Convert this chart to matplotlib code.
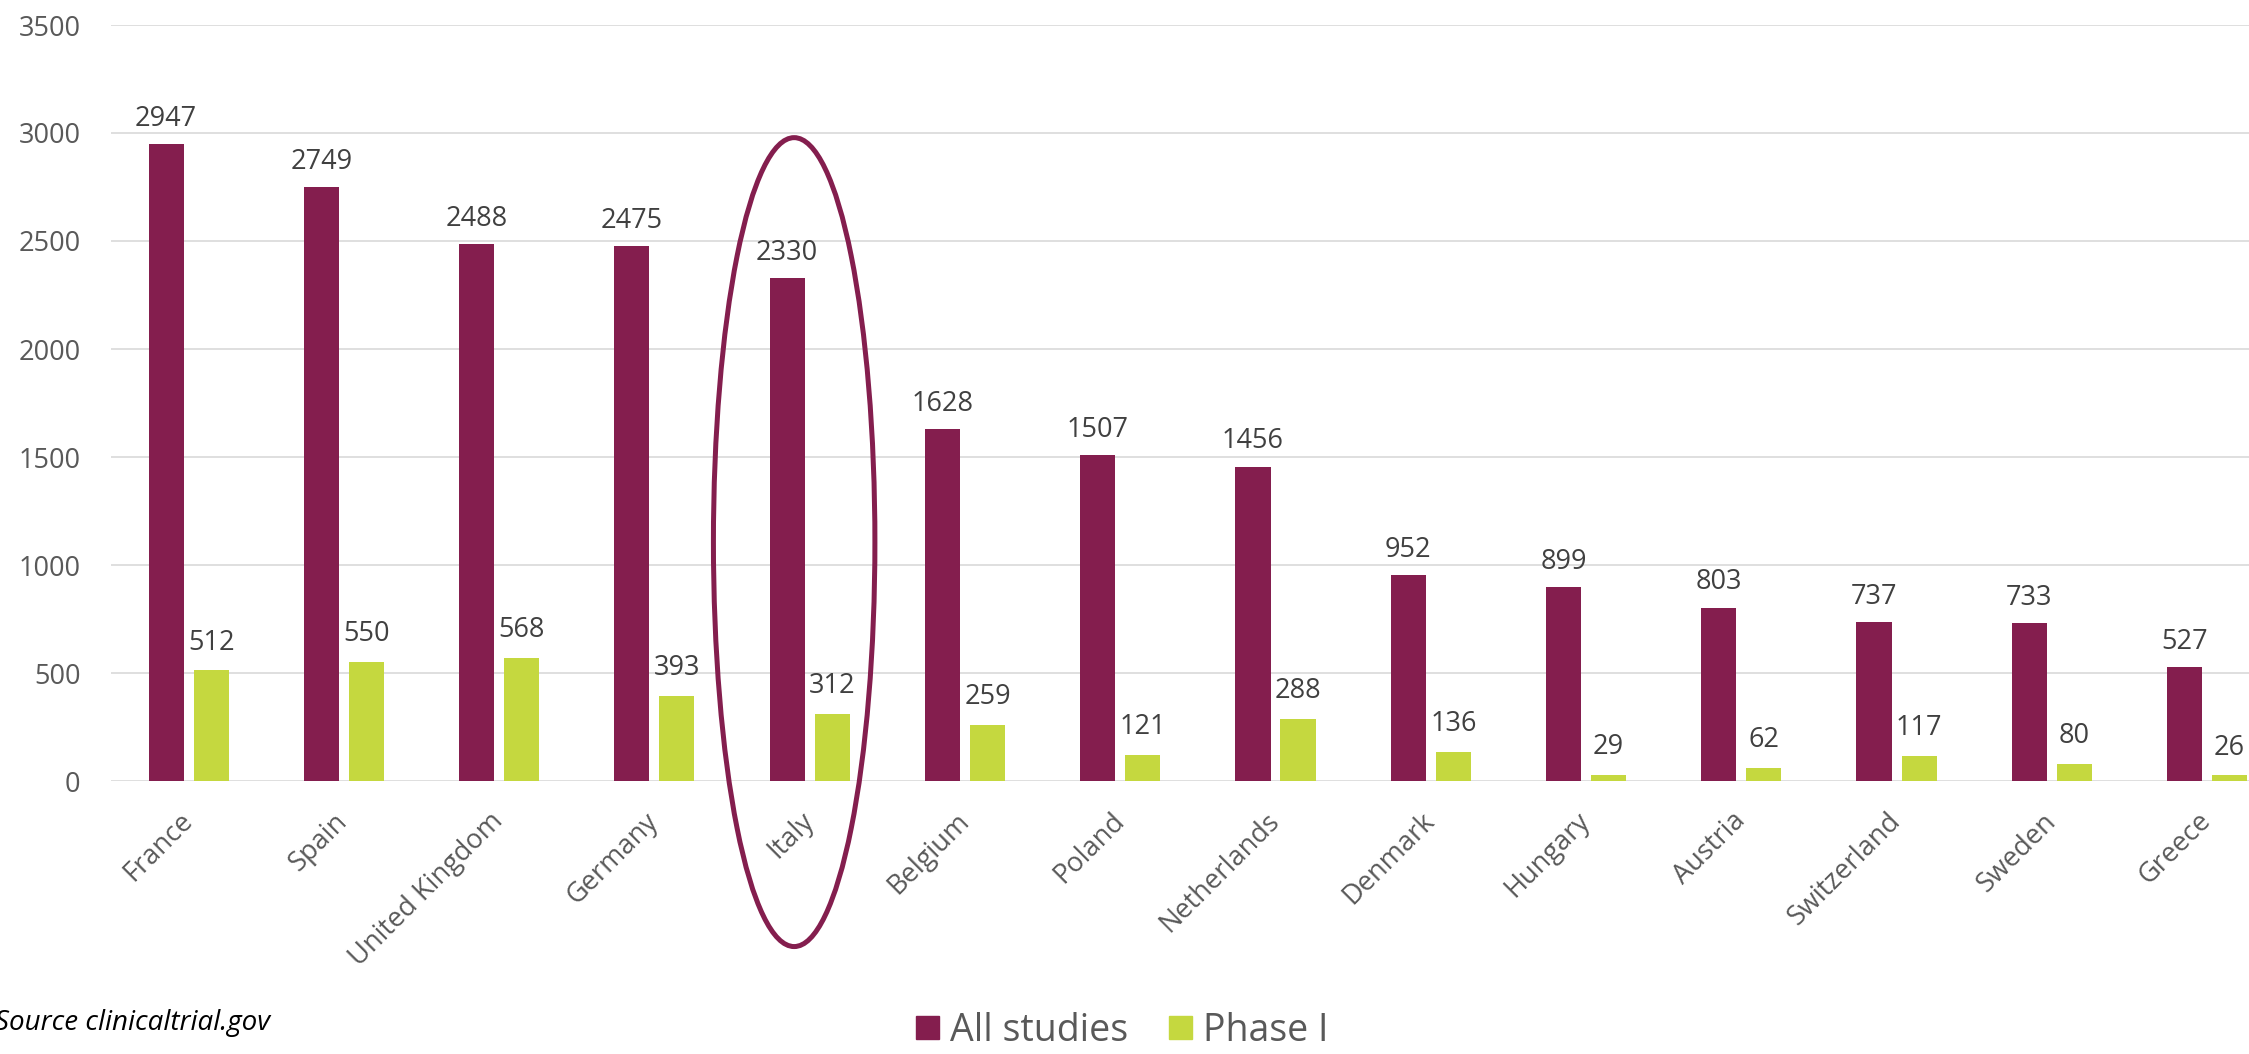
import numpy as np
import matplotlib.pyplot as plt
from matplotlib.patches import Ellipse, Patch

plt.rcParams['font.family'] = ['Open Sans', 'DejaVu Sans']

# Number of registered trials per country
countries = ["France", "Spain", "United Kingdom", "Germany", "Italy", "Belgium",
             "Poland", "Netherlands", "Denmark", "Hungary", "Austria",
             "Switzerland", "Sweden", "Greece"]
all_studies = [2947, 2749, 2488, 2475, 2330, 1628, 1507, 1456, 952, 899, 803, 737, 733, 527]
phase_1 = [512, 550, 568, 393, 312, 259, 121, 288, 136, 29, 62, 117, 80, 26]

maroon = "#841E4E"
green = "#C5D83F"
grey_text = "#595959"

fig = plt.figure(figsize=(22.49, 10.54), dpi=100)
ax = fig.add_axes([111 / 2249, 1 - 781 / 1054, 1 - 111 / 2249, (781 - 25) / 1054])

x = np.arange(len(countries))
w = 0.226
off = 0.145
ax.bar(x - off, all_studies, w, color=maroon, label="All studies")
ax.bar(x + off, phase_1, w, color=green, label="Phase I")

for i in range(len(countries)):
    ax.annotate(str(all_studies[i]), (x[i] - off, all_studies[i]), xytext=(0, 13),
                textcoords="offset points", ha="center", va="baseline",
                fontsize=19.5, color="#404040")
    ax.annotate(str(phase_1[i]), (x[i] + off, phase_1[i]), xytext=(0, 15),
                textcoords="offset points", ha="center", va="baseline",
                fontsize=19.5, color="#404040")

ax.set_xlim(-0.5, 13.27)
ax.set_ylim(0, 3500)
ax.set_yticks(range(0, 3501, 500))
ax.grid(axis="y", color="#D9D9D9", linewidth=1.2)
ax.set_axisbelow(True)
for s in ax.spines.values():
    s.set_visible(False)

ax.set_xticks(x)
ax.set_xticklabels(countries, rotation=45, ha="right", va="center",
                   rotation_mode="anchor")
ax.tick_params(axis="x", length=0, pad=26, labelsize=19.5, labelcolor=grey_text)
ax.tick_params(axis="y", length=0, pad=22, labelsize=19.5, labelcolor=grey_text)

# highlight ring around Italy
italy = countries.index("Italy")
ring = Ellipse((italy - 0.1, 1106), 1.04, 3745, fill=False,
               edgecolor=maroon, linewidth=3.6, clip_on=False)
ax.add_patch(ring)

handles = [Patch(color=maroon, label="All studies"), Patch(color=green, label="Phase I")]
fig.legend(handles=handles, loc="center", bbox_to_anchor=(0.499, 0.022), ncol=2,
           frameon=False, fontsize=27, labelcolor=grey_text,
           handlelength=0.6, handleheight=0.6, handletextpad=0.3,
           columnspacing=1.1)

fig.text(270 / 2249, 1 - 1030 / 1054, "Source clinicaltrial.gov", ha="right",
         va="baseline", fontsize=20, style="italic", color="black")

fig.savefig("out.png", dpi=100)
